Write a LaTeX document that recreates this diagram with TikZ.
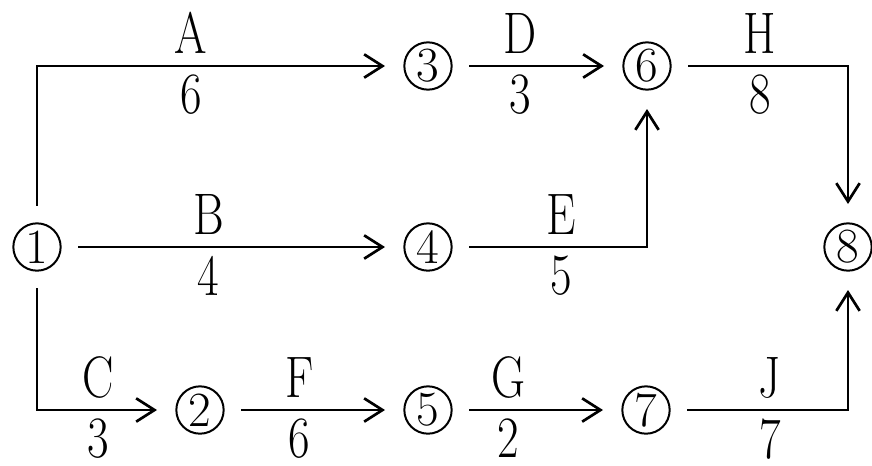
\documentclass[tikz,border=0pt]{standalone}
\usepackage{tikz}
\usetikzlibrary{arrows.meta, positioning}
\tikzset{
  event/.style = {circle, draw, line width=1.7pt, minimum size=1.42cm,
                  inner sep=0pt, font=\fontsize{42}{42}\selectfont},
  arrow/.style = {-{Straight Barb[length=0.55cm, width=0.7cm]}, line width=2.3pt,
                  shorten <=0.5cm, shorten >=0.55cm},
  act/.style   = {above=0.32cm, inner sep=0pt, font=\fontsize{50}{50}\selectfont,
                  xscale=0.8, transform shape},
  dur/.style   = {below=0.23cm, inner sep=0pt, font=\fontsize{50}{50}\selectfont,
                  xscale=0.8, transform shape},
}
\begin{document}
\begin{tikzpicture}[x=0.03cm, y=-0.03cm]
  \useasboundingbox (0,0) rectangle (872,465);

  % ---- Events ----
  \node[event] (n1) at (37,247)  {1};
  \node[event] (n2) at (200,410) {2};
  \node[event] (n3) at (428,66)  {3};
  \node[event] (n4) at (428,247) {4};
  \node[event] (n5) at (428,410) {5};
  \node[event] (n6) at (647,66)  {6};
  \node[event] (n7) at (646,410) {7};
  \node[event] (n8) at (848,247) {8};

  % ---- Activities out of 1 ----
  \draw[arrow] (n1) |- node[act, pos=0.71]{A} node[dur, pos=0.71]{6} (n3);
  \draw[arrow] (n1) -- node[act, pos=0.43]{B} node[dur, pos=0.43]{4} (n4);
  \draw[arrow] (n1) |- node[act, pos=0.72]{C} node[dur, pos=0.72]{3} (n2);

  % ---- Middle activities ----
  \draw[arrow] (n2) -- node[act, pos=0.42]{F} node[dur, pos=0.42]{6} (n5);
  \draw[arrow] (n3) -- node[act, pos=0.40]{D} node[dur, pos=0.40]{3} (n6);
  \draw[arrow] (n4) -| node[act, pos=0.28]{E} node[dur, pos=0.28]{5} (n6);
  \draw[arrow] (n5) -- node[act, pos=0.33]{G} node[dur, pos=0.33]{2} (n7);

  % ---- Into the finish ----
  \draw[arrow] (n6) -| node[act, pos=0.25]{H} node[dur, pos=0.25]{8} (n8);
  \draw[arrow] (n7) -| node[act, pos=0.28]{J} node[dur, pos=0.28]{7} (n8);

\end{tikzpicture}
\end{document}
